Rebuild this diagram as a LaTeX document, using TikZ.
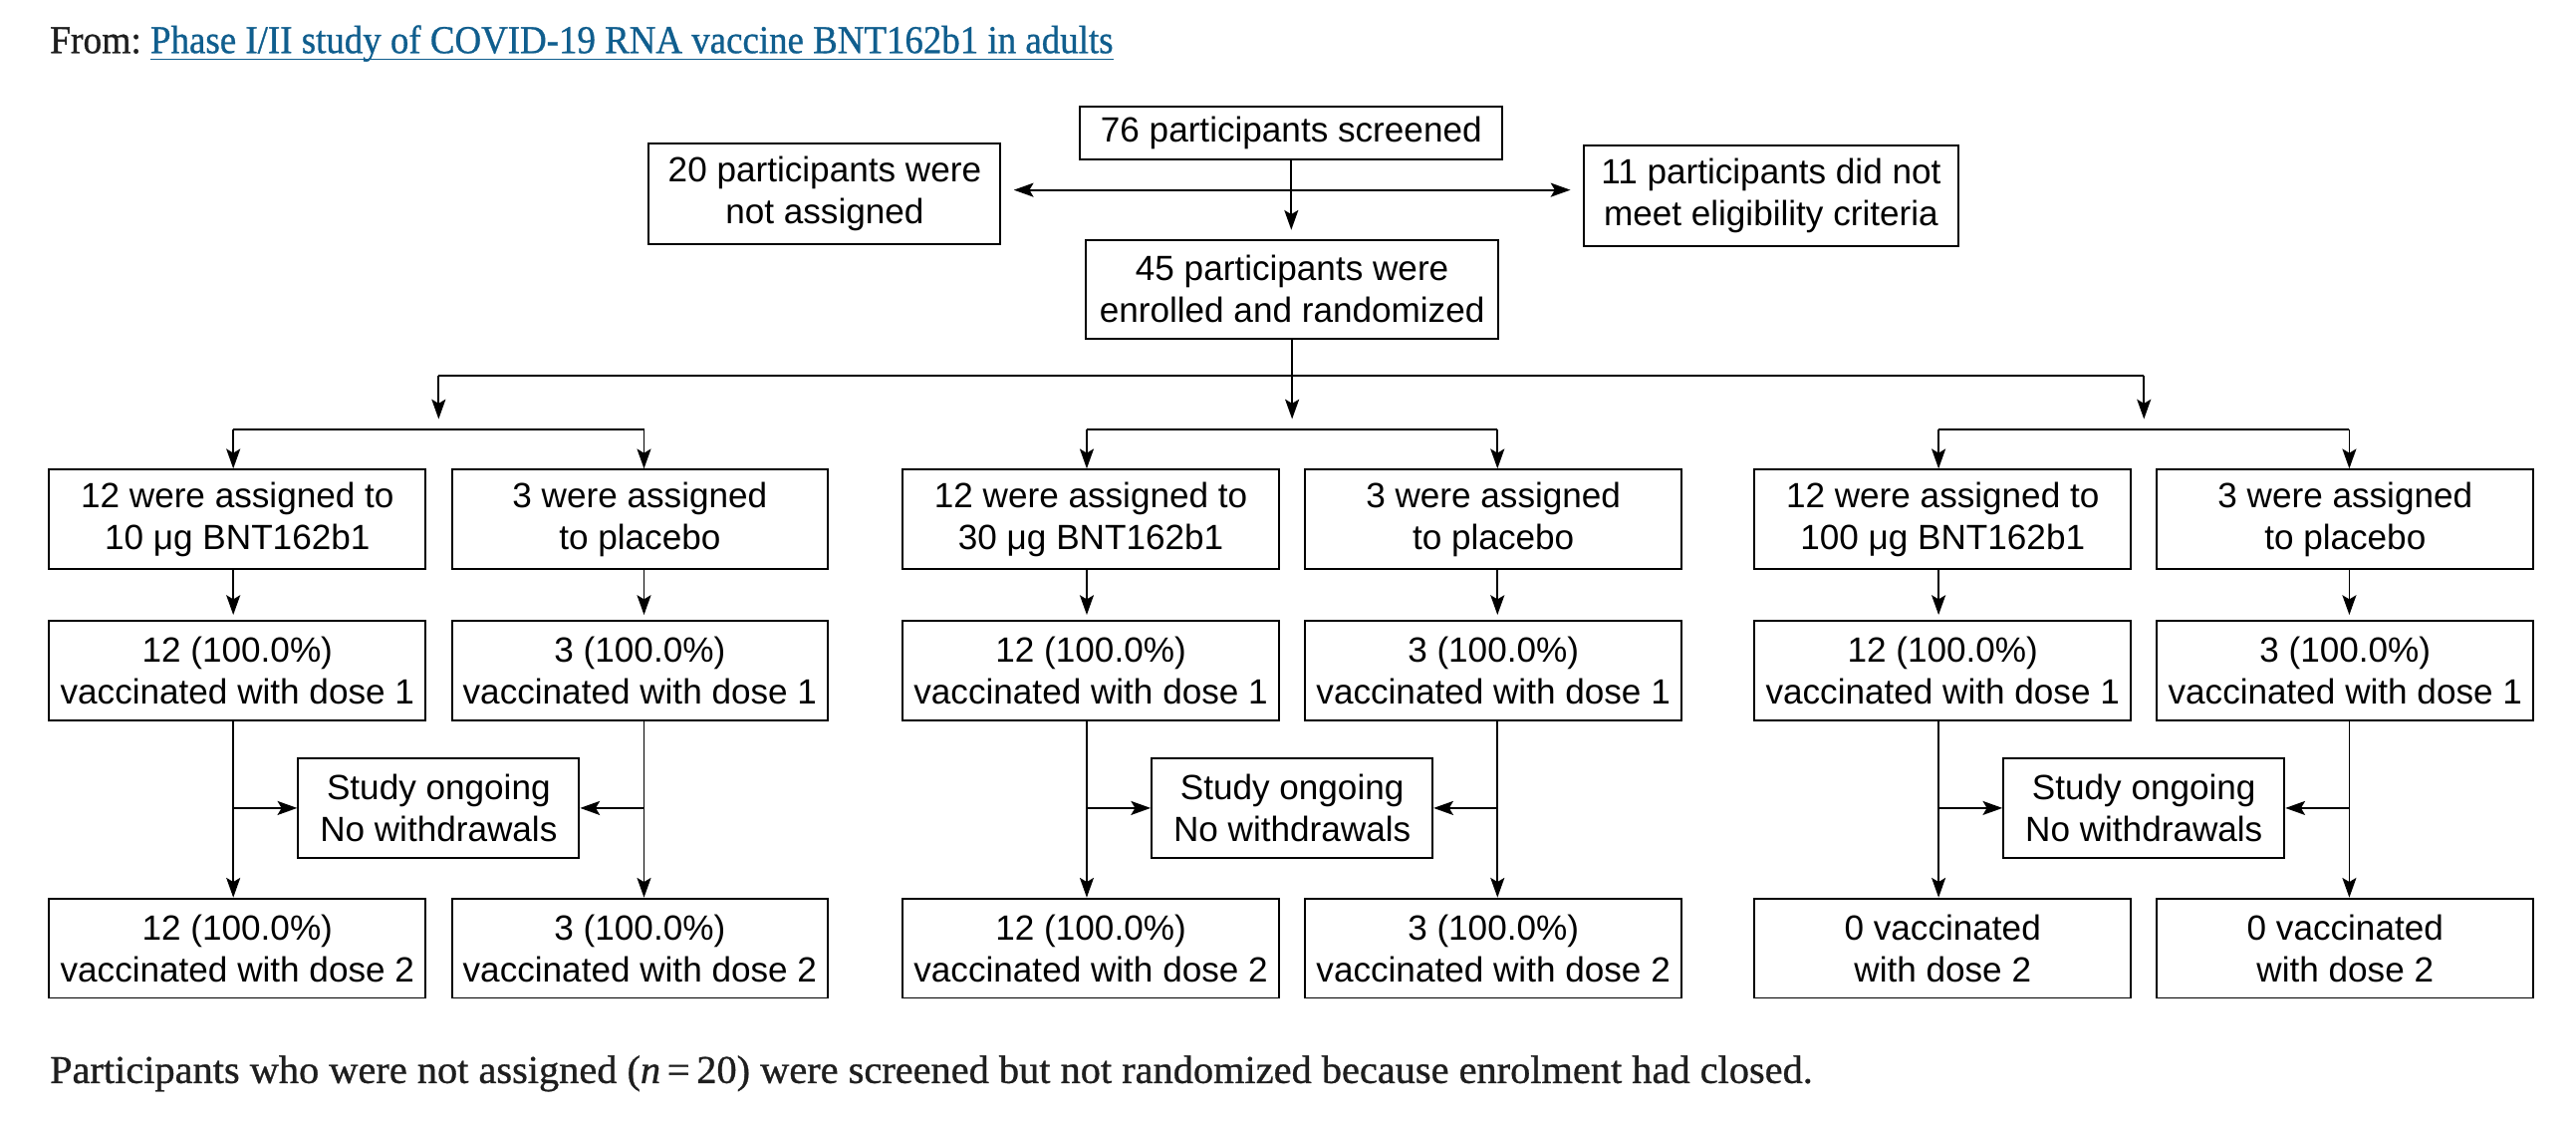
\documentclass[tikz,border=0pt]{standalone}
\usepackage{fontspec}
\setmainfont{Liberation Sans}
\newfontfamily\serifc{Liberation Serif}[FakeBold=0.8]
\usetikzlibrary{arrows.meta}
\definecolor{linkblue}{HTML}{105E8E}
\definecolor{capgray}{HTML}{1E1E1E}
\newcommand\boxfont{\fontsize{21.3}{25.5}\selectfont}
\newcommand\headfont{\serifc\fontsize{24}{28}\selectfont}
\begin{document}
\begin{tikzpicture}[x=1pt,y=-1pt,
  box/.style={draw, line width=1.2pt, rectangle, inner sep=0pt,
    minimum width=229pt, minimum height=60.5pt, align=center, font=\boxfont},
  flow/.style={line width=1.05pt, -{Stealth[length=12pt,width=8.5pt,inset=2.5pt]}},
  twoway/.style={line width=1.05pt, {Stealth[length=12pt,width=8.5pt,inset=2.5pt]}-{Stealth[length=12pt,width=8.5pt,inset=2.5pt]}},
  plain/.style={line width=1.05pt}]
\useasboundingbox (0,0) rectangle (1568,684);

% header and footer
\node[anchor=base west, inner sep=0pt, font=\headfont, text=capgray] (from) at (30.2,32.3)
  {\resizebox{55.6pt}{\height}{From:}};
\node[anchor=base west, inner sep=0pt, font=\headfont, text=linkblue] (link) at (91.4,32.3)
  {\resizebox{586pt}{\height}{Phase I/II study of COVID-19 RNA vaccine BNT162b1 in adults}};
\draw[linkblue, line width=1pt] ([yshift=-3.8pt]link.base west) -- ([yshift=-3.8pt]link.base east);
\node[anchor=base west, inner sep=0pt, font=\headfont, text=capgray] (note) at (30.2,659)
  {\resizebox{1073pt}{\height}{Participants who were not assigned (\textit{n}\,=\,20) were screened but not randomized because enrolment had closed.}};

% top part
\node[box, minimum width=257pt, minimum height=32.5pt] (s76) at (786,81) {76 participants screened};
\node[box, minimum width=214pt, minimum height=61.5pt] (n20) at (502,118) {20 participants were\\not assigned};
\node[box, minimum width=228pt, minimum height=61pt] (n11) at (1078,119) {11 participants did not\\meet eligibility criteria};
\node[box, minimum width=251pt, minimum height=60pt] (n45) at (786.5,176) {45 participants were\\enrolled and randomized};

\coordinate (dbl) at (786,115.6);
\draw[twoway, shorten <=7.5pt, shorten >=7.5pt] (n20.east |- dbl) -- (n11.west |- dbl);
\draw[flow, shorten >=5.5pt] (s76.south) -- (s76.south |- n45.north);

% split into three groups
\coordinate (hL) at (267,228.4);
\coordinate (hR) at (1305,228.4);
\coordinate (g2t) at (786.5,255);
\draw[plain] (hL) -- (hR);
\draw[flow] (n45.south) -- (g2t);
\draw[flow] (hL) -- (267,255);
\draw[flow] (hR) -- (1305,255);

\foreach \g/\c/\dose/\tl/\tr in {
  a/267/10/{12 (100.0\%)\\vaccinated with dose 2}/{3 (100.0\%)\\vaccinated with dose 2},
  b/786.5/30/{12 (100.0\%)\\vaccinated with dose 2}/{3 (100.0\%)\\vaccinated with dose 2},
  c/1305/100/{0 vaccinated\\with dose 2}/{0 vaccinated\\with dose 2}} {
  \node[box] (L1\g) at ({\c-122.5},316) {12 were assigned to\\\dose\ μg BNT162b1};
  \node[box] (R1\g) at ({\c+122.5},316) {3 were assigned\\to placebo};
  \node[box] (L2\g) at ({\c-122.5},408) {12 (100.0\%)\\vaccinated with dose 1};
  \node[box] (R2\g) at ({\c+122.5},408) {3 (100.0\%)\\vaccinated with dose 1};
  \node[box, minimum width=171pt, minimum height=60.7pt] (S\g) at (\c,491.7) {Study ongoing\\No withdrawals};
  \node[box] (L3\g) at ({\c-122.5},577) {\tl};
  \node[box] (R3\g) at ({\c+122.5},577) {\tr};
  \coordinate (ga\g) at ({\c-125},261.5);
  \coordinate (gb\g) at ({\c+125},261.5);
  \draw[plain] (ga\g) -- (gb\g);
  \draw[flow] (ga\g) -- (ga\g |- L1\g.north);
  \draw[flow] (gb\g) -- (gb\g |- R1\g.north);
  \draw[flow, shorten >=3pt] (ga\g |- L1\g.south) -- (ga\g |- L2\g.north);
  \draw[flow, shorten >=3pt] (gb\g |- R1\g.south) -- (gb\g |- R2\g.north);
  \draw[flow] (ga\g |- L2\g.south) -- (ga\g |- L3\g.north);
  \draw[flow] (gb\g |- R2\g.south) -- (gb\g |- R3\g.north);
  \draw[flow] (ga\g |- S\g.west) -- (S\g.west);
  \draw[flow] (gb\g |- S\g.east) -- (S\g.east);
}
\end{tikzpicture}
\end{document}
